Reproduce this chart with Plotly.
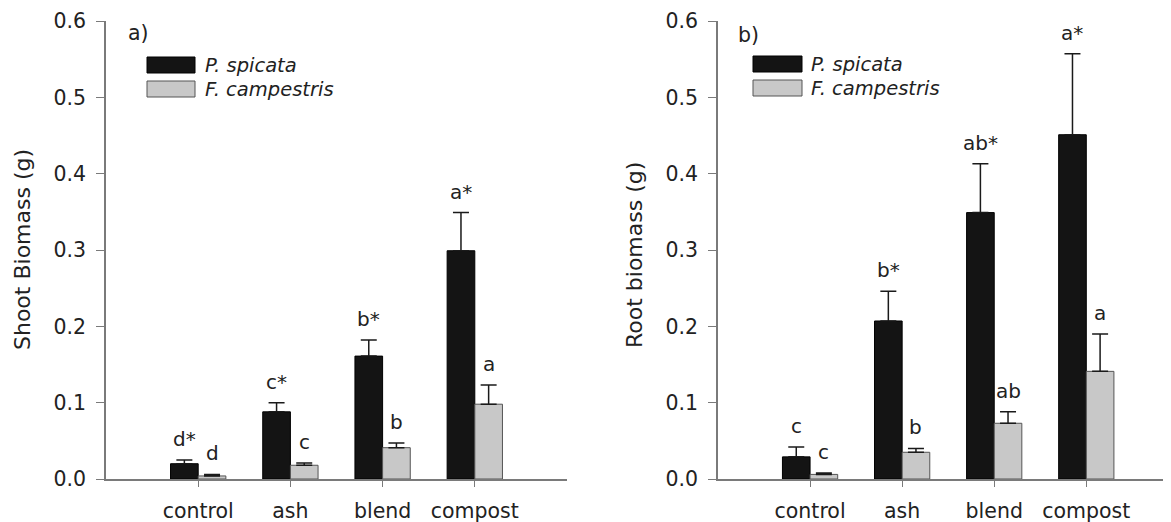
import plotly.graph_objects as go

# ---------------- data ----------------
categories = ["control", "ash", "blend", "compost"]
species = ["P. spicata", "F. campestris"]

shoot_ps = [0.020, 0.088, 0.161, 0.299]
shoot_ps_err = [0.005, 0.012, 0.021, 0.050]
shoot_fc = [0.004, 0.018, 0.041, 0.098]
shoot_fc_err = [0.002, 0.003, 0.006, 0.025]
shoot_ps_lbl = ["d*", "c*", "b*", "a*"]
shoot_fc_lbl = ["d", "c", "b", "a"]

root_ps = [0.029, 0.207, 0.349, 0.451]
root_ps_err = [0.013, 0.039, 0.064, 0.106]
root_fc = [0.006, 0.035, 0.073, 0.141]
root_fc_err = [0.002, 0.005, 0.015, 0.049]
root_ps_lbl = ["c", "b*", "ab*", "a*"]
root_fc_lbl = ["c", "b", "ab", "a"]

y_ticks = [0.0, 0.1, 0.2, 0.3, 0.4, 0.5, 0.6]
y_ticktext = ["0.0", "0.1", "0.2", "0.3", "0.4", "0.5", "0.6"]

# ---------------- style ----------------
# the page body has an 8px margin, so the figure is sized to fit the window
W, H = 1163, 514
FONT = "DejaVu Sans"
TXT = "#222222"
AXC = "#7a7a7a"
BLACK = "#141414"
GRAY = "#c8c8c8"
GRAY_LINE = "#555555"
FS = 20.5

fig = go.Figure()

panels = [
    ("x", "y", shoot_ps, shoot_ps_err, shoot_fc, shoot_fc_err, shoot_ps_lbl, shoot_fc_lbl),
    ("x2", "y2", root_ps, root_ps_err, root_fc, root_fc_err, root_ps_lbl, root_fc_lbl),
]

for xa, ya, ps, pse, fc, fce, psl, fcl in panels:
    fig.add_trace(go.Bar(
        x=categories, y=ps, name=species[0], xaxis=xa, yaxis=ya,
        marker=dict(color=BLACK, line=dict(color="#000000", width=1)),
        error_y=dict(type="data", symmetric=False, array=pse,
                     arrayminus=[0] * len(pse), color="#1a1a1a",
                     thickness=1.5, width=8),
        showlegend=False))
    fig.add_trace(go.Bar(
        x=categories, y=fc, name=species[1], xaxis=xa, yaxis=ya,
        marker=dict(color=GRAY, line=dict(color=GRAY_LINE, width=1)),
        error_y=dict(type="data", symmetric=False, array=fce,
                     arrayminus=[0] * len(fce), color="#1a1a1a",
                     thickness=1.5, width=8),
        showlegend=False))
    for i in range(len(categories)):
        fig.add_annotation(x=i - 0.15, y=ps[i] + pse[i], xref=xa, yref=ya,
                           text=psl[i], showarrow=False, yshift=21,
                           yanchor="middle",
                           font=dict(family=FONT, size=20, color=TXT))
        fig.add_annotation(x=i + 0.15, y=fc[i] + fce[i], xref=xa, yref=ya,
                           text=fcl[i], showarrow=False, yshift=21,
                           yanchor="middle",
                           font=dict(family=FONT, size=20, color=TXT))

ydom = [43 / H, 501 / H]
common_x = dict(type="category", showline=True, linecolor=AXC, linewidth=1.5,
                ticks="outside", ticklen=6, tickcolor=AXC, tickwidth=1,
                showgrid=False, zeroline=False, ticklabelstandoff=7,
                tickfont=dict(family=FONT, size=FS, color=TXT),
                automargin=False)
common_y = dict(range=[0, 0.6], tickvals=y_ticks, ticktext=y_ticktext,
                showline=True, linecolor=AXC, linewidth=1.5,
                ticks="outside", ticklen=8, tickcolor=AXC, tickwidth=1,
                showgrid=False, zeroline=False, ticklabelstandoff=6,
                tickfont=dict(family=FONT, size=FS, color=TXT),
                automargin=False, domain=ydom)

fig.update_layout(
    width=W, height=H,
    margin=dict(l=0, r=0, t=0, b=0),
    paper_bgcolor="white", plot_bgcolor="white",
    barmode="group", bargap=0.4, bargroupgap=0,
    xaxis=dict(common_x, domain=[98 / W, 559 / W], range=[-1.0, 4.0], anchor="y"),
    yaxis=dict(common_y, anchor="x"),
    xaxis2=dict(common_x, domain=[710 / W, 1.0], range=[-1.0, 3.92], anchor="y2"),
    yaxis2=dict(common_y, anchor="x2"),
)

# axis titles
fig.add_annotation(x=14 / W, y=1 - 242 / H, xref="paper", yref="paper",
                   text="Shoot Biomass (g)", textangle=-90, showarrow=False,
                   xanchor="center", yanchor="middle",
                   font=dict(family=FONT, size=22, color=TXT))
fig.add_annotation(x=626 / W, y=1 - 247 / H, xref="paper", yref="paper",
                   text="Root biomass (g)", textangle=-90, showarrow=False,
                   xanchor="center", yanchor="middle",
                   font=dict(family=FONT, size=22, color=TXT))

# panel letters
fig.add_annotation(x=118 / W, y=1 - 25 / H, xref="paper", yref="paper",
                   text="a)", showarrow=False, xanchor="left", yanchor="middle",
                   font=dict(family=FONT, size=FS, color=TXT))
fig.add_annotation(x=728 / W, y=1 - 27 / H, xref="paper", yref="paper",
                   text="b)", showarrow=False, xanchor="left", yanchor="middle",
                   font=dict(family=FONT, size=FS, color=TXT))

# legends (drawn as swatches + italic text)
def legend(x0, x1, ytop_black, ytop_gray, text_x):
    for (yt, col, lc, name) in [(ytop_black, BLACK, "#000000", species[0]),
                                (ytop_gray, GRAY, GRAY_LINE, species[1])]:
        fig.add_shape(type="rect", xref="paper", yref="paper",
                      x0=x0 / W, x1=x1 / W, y0=1 - yt / H, y1=1 - (yt + 16) / H,
                      fillcolor=col, line=dict(color=lc, width=1))
        fig.add_annotation(x=text_x / W, y=1 - (yt + 8) / H, xref="paper", yref="paper",
                           text="<i>" + name + "</i>", showarrow=False,
                           xanchor="left", yanchor="middle",
                           font=dict(family=FONT, size=19.5, color=TXT))

legend(139, 187, 49, 73, 195)
legend(745, 794, 48, 72, 801)

fig.write_html("out.html")
